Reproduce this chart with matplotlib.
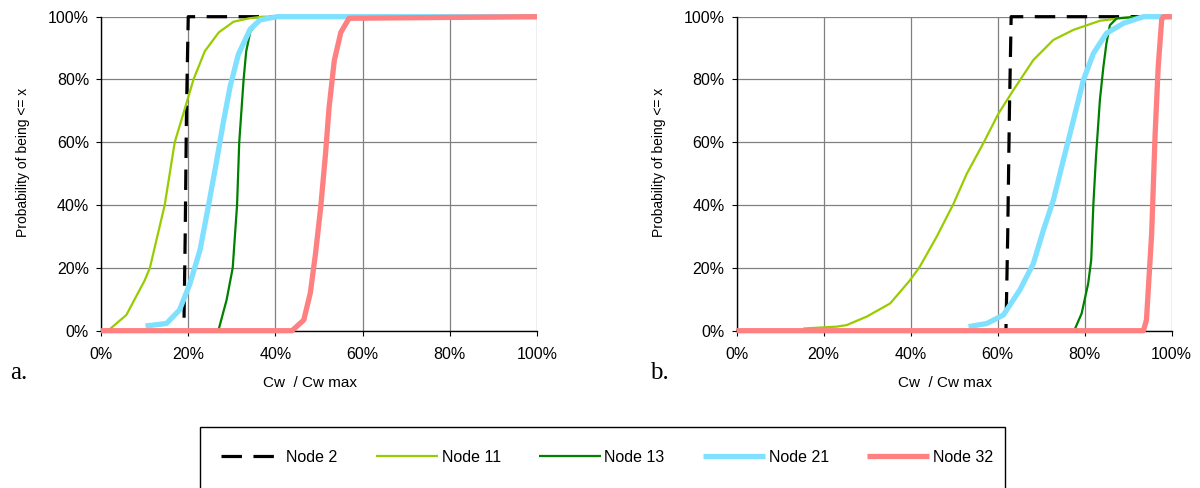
import matplotlib.pyplot as plt
from matplotlib.patches import Rectangle
from matplotlib.ticker import PercentFormatter, MultipleLocator

plt.rcParams['font.family'] = ['Liberation Sans', 'DejaVu Sans']
plt.rcParams['font.size'] = 11.5

# cumulative curves, x = Cw / Cw max (%), y = probability (%)
# panel a
a_node2_x = [0, 19.0, 19.3, 19.6, 20.0, 100]
a_node2_y = [0, 0, 30, 70, 100, 100]
a_node11_x = [0, 2.0, 5.8, 10.0, 11.2, 14.6, 16.9, 19.5, 21.2, 23.8, 27.0, 30.4, 34.0, 37.0, 100]
a_node11_y = [0, 0.5, 5, 16, 20, 40, 60, 72, 80, 89, 95, 98.4, 99.5, 100, 100]
a_node13_x = [26.9, 28.8, 30.2, 31.2, 31.7, 32.7, 33.3, 34.2, 36.2, 38.8, 100]
a_node13_y = [0, 9.8, 20, 40, 60, 80, 89, 95, 99, 100, 100]
a_node21_x = [10.2, 15.0, 18.0, 20.4, 22.7, 24.6, 26.5, 28.0, 29.6, 31.5, 34.2, 36.5, 40.4, 100]
a_node21_y = [1.5, 2.3, 6.6, 15, 25.7, 39.5, 54, 66, 77.7, 88, 96, 99, 100, 100]
a_node32_x = [0, 43.8, 46.5, 48.0, 49.2, 50.4, 51.5, 52.3, 53.5, 55.0, 56.9, 100]
a_node32_y = [0, 0, 3.4, 12, 24.6, 39.5, 56.5, 71, 86, 95, 99.5, 100]

# panel b
b_node2_x = [0, 61.9, 62.3, 62.7, 63.1, 100]
b_node2_y = [0, 0, 30, 70, 100, 100]
b_node11_x = [15.3, 23.0, 25.3, 29.9, 35.3, 39.8, 42.1, 46.0, 49.8, 52.9, 56.7, 60.2, 63.6,
              68.2, 72.8, 77.4, 83.5, 88.1, 92.7, 100]
b_node11_y = [0.7, 1.3, 1.8, 4.5, 8.7, 16, 20.4, 30, 40.3, 50, 59.7, 69.2, 76.6,
              86.2, 92.6, 95.8, 98.7, 99.5, 100, 100]
b_node13_x = [77.8, 79.3, 80.8, 81.5, 82.0, 82.6, 83.5, 84.3, 85.0, 85.8, 87.4, 92.7, 100]
b_node13_y = [0.7, 5.5, 15, 22.5, 40.3, 55.4, 73.5, 84, 91.5, 97.3, 99.5, 100, 100]
b_node21_x = [53.3, 57.5, 61.3, 65.1, 68.2, 70.5, 72.8, 75.1, 77.4, 79.7, 82.0, 85.0, 88.9, 93.5, 100]
b_node21_y = [1.3, 2.3, 5, 13, 21.4, 32, 41.6, 54.4, 67, 79.8, 88.3, 94.7, 97.9, 100, 100]
b_node32_x = [0, 93.5, 94.2, 95.4, 96.2, 96.9, 97.7, 98.1, 100]
b_node32_y = [0, 0, 3.4, 31, 62.8, 84, 99, 100, 100]

labels = ['Node 2', 'Node 11', 'Node 13', 'Node 21', 'Node 32']
colors = ['black', '#99CC00', '#008000', '#80E0FF', '#FF8080']
widths = [2.3, 1.6, 1.6, 3.8, 3.8]

panels = [
    [(a_node2_x, a_node2_y), (a_node11_x, a_node11_y), (a_node13_x, a_node13_y),
     (a_node21_x, a_node21_y), (a_node32_x, a_node32_y)],
    [(b_node2_x, b_node2_y), (b_node11_x, b_node11_y), (b_node13_x, b_node13_y),
     (b_node21_x, b_node21_y), (b_node32_x, b_node32_y)],
]

fig = plt.figure(figsize=(12, 4.88), dpi=100)
ax_a = fig.add_axes([0.0842, 0.3223, 0.3633, 0.6435])
ax_b = fig.add_axes([0.6139, 0.3223, 0.3625, 0.6435])

handles = []
for ax, series in zip([ax_a, ax_b], panels):
    for i, (xs, ys) in enumerate(series):
        ls = (0, (6.4, 3.6)) if i == 0 else '-'
        h, = ax.plot(xs, ys, color=colors[i], lw=widths[i], ls=ls,
                     solid_capstyle='butt', clip_on=False, label=labels[i], zorder=3 + i)
        if ax is ax_a:
            handles.append(h)
    ax.set_xlim(0, 100)
    ax.set_ylim(0, 100)
    ax.xaxis.set_major_locator(MultipleLocator(20))
    ax.yaxis.set_major_locator(MultipleLocator(20))
    ax.xaxis.set_major_formatter(PercentFormatter(decimals=0))
    ax.yaxis.set_major_formatter(PercentFormatter(decimals=0))
    ax.grid(True, color='#808080', lw=0.9)
    ax.set_axisbelow(True)
    for s in ['top', 'right']:
        ax.spines[s].set_visible(False)
    for s in ['left', 'bottom']:
        ax.spines[s].set_color('black')
        ax.spines[s].set_linewidth(1.0)
    ax.tick_params(direction='out', length=3.6, width=0.8)
    ax.tick_params(axis='y', pad=5)
    ax.tick_params(axis='x', pad=8)
    ax.set_xlabel('Cw  / Cw max', fontsize=11)
    ax.set_ylabel('Probability of being <= x', fontsize=10)
    ax.xaxis.set_label_coords(0.479, -0.145)
    ax.yaxis.set_label_coords(-0.163, 0.535)

fig.text(10 / 1200, 1 - 379 / 488, 'a.', family='Liberation Serif', fontsize=18, va='baseline')
fig.text(650 / 1200, 1 - 379 / 488, 'b.', family='Liberation Serif', fontsize=18, va='baseline')

# legend box along the bottom edge
fig.patches.append(Rectangle((200 / 1200, 1 - 494 / 488), 805 / 1200, 67 / 488,
                             transform=fig.transFigure, fill=False,
                             edgecolor='black', lw=1.0))
fig.legend(handles=handles, loc='center left', ncol=5, frameon=False,
           bbox_to_anchor=(221 / 1200, 1 - 457 / 488),
           handlelength=3.9, handletextpad=0.2, columnspacing=2.4,
           borderpad=0, borderaxespad=0, fontsize=11.5)

fig.savefig('out.png', dpi=100)
